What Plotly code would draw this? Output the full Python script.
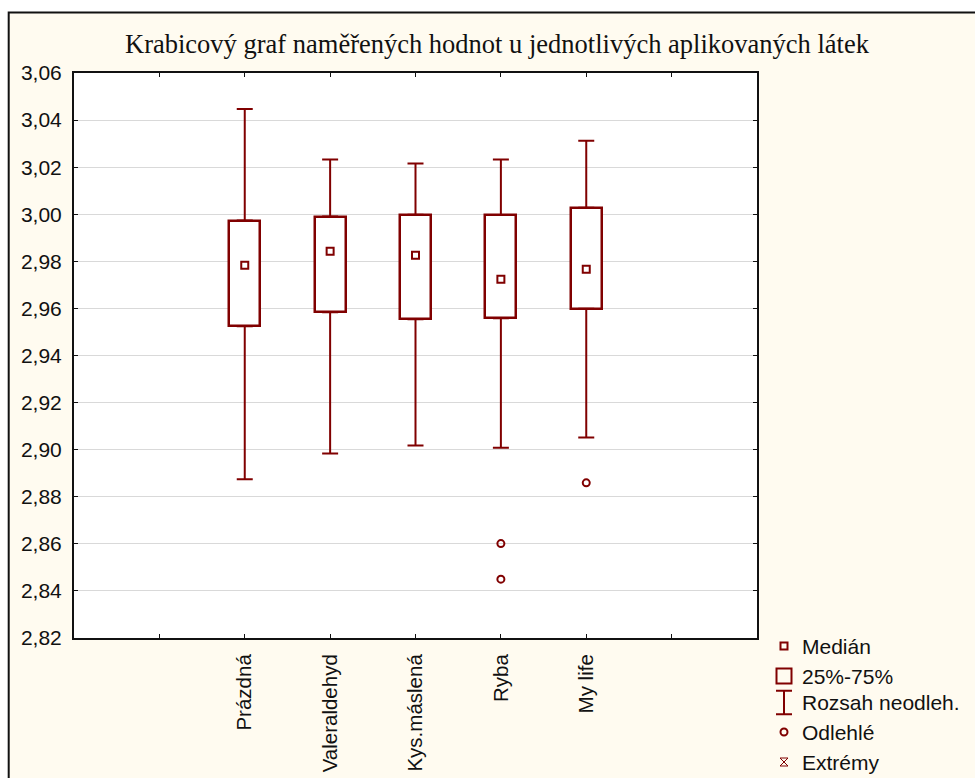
import plotly.graph_objects as go

# ---- data -------------------------------------------------------------
categories = ["Prázdná", "Valeraldehyd", "Kys.máslená", "Ryba", "My life"]
upper_whisker = [3.0447, 3.0233, 3.0216, 3.0233, 3.0312]
q3_values = [2.9973, 2.9990, 2.9998, 2.9997, 3.0028]
median_values = [2.9783, 2.9843, 2.9826, 2.9724, 2.9766]
q1_values = [2.9524, 2.9584, 2.9554, 2.9558, 2.9599]
lower_whisker = [2.8874, 2.8984, 2.9018, 2.9008, 2.9052]
outlier_groups = ["Ryba", "Ryba", "My life"]
outlier_values = [2.8601, 2.8450, 2.8859]

y_tickvals = [2.82, 2.84, 2.86, 2.88, 2.90, 2.92, 2.94, 2.96, 2.98,
              3.00, 3.02, 3.04, 3.06]
y_ticktext = ["2,82", "2,84", "2,86", "2,88", "2,90", "2,92", "2,94",
              "2,96", "2,98", "3,00", "3,02", "3,04", "3,06"]

legend_labels = ["Medián", "25%-75%", "Rozsah neodleh.", "Odlehlé", "Extrémy"]

title_text = "Krabicový graf naměřených hodnot u jednotlivých aplikovaných látek"

# ---- styling ------------------------------------------------------------
RED = "#800000"
CREAM = "#FFFBF0"
W, H = 975, 778
SANS = "Liberation Sans, Arial, sans-serif"
SERIF = "Liberation Serif, Times New Roman, serif"

# category slots: one empty slot on each side of the five groups
x_pos = [i + 2 for i in range(len(categories))]
slot_of = dict(zip(categories, x_pos))
x_tickvals = list(range(1, len(categories) + 3))
x_ticktext = [""] + categories + [""]

fig = go.Figure()

# boxes (Q1 .. Q3)
fig.add_trace(go.Bar(
    x=x_pos,
    y=[a - b for a, b in zip(q3_values, q1_values)],
    base=q1_values,
    width=0.365,
    marker=dict(color="white", line=dict(color=RED, width=2.5)),
    showlegend=False, hoverinfo="skip",
))

# upper whiskers from Q3
fig.add_trace(go.Scatter(
    x=x_pos, y=q3_values, mode="markers",
    marker=dict(size=1, color="rgba(0,0,0,0)"),
    error_y=dict(type="data", symmetric=False,
                 array=[u - q for u, q in zip(upper_whisker, q3_values)],
                 arrayminus=[0] * len(x_pos),
                 color=RED, thickness=2, width=8),
    showlegend=False, hoverinfo="skip",
))

# lower whiskers from Q1
fig.add_trace(go.Scatter(
    x=x_pos, y=q1_values, mode="markers",
    marker=dict(size=1, color="rgba(0,0,0,0)"),
    error_y=dict(type="data", symmetric=False,
                 array=[0] * len(x_pos),
                 arrayminus=[q - l for q, l in zip(q1_values, lower_whisker)],
                 color=RED, thickness=2, width=8),
    showlegend=False, hoverinfo="skip",
))

# medians
fig.add_trace(go.Scatter(
    x=x_pos, y=median_values, mode="markers",
    marker=dict(symbol="square-open", size=7, color=RED,
                line=dict(color=RED, width=2)),
    showlegend=False,
))

# outliers
fig.add_trace(go.Scatter(
    x=[slot_of[g] for g in outlier_groups], y=outlier_values, mode="markers",
    marker=dict(symbol="circle-open", size=7, color=RED,
                line=dict(color=RED, width=2)),
    showlegend=False,
))

# ---- key (drawn on a pixel-scaled overlay axis) ---------------------------
key_x = 784
key_rows = [646, 676, 702.5, 732, 762]

fig.add_trace(go.Scatter(
    x=[key_x], y=[key_rows[0]], xaxis="x2", yaxis="y2", mode="markers",
    marker=dict(symbol="square-open", size=7, color=RED, line=dict(color=RED, width=2)),
    showlegend=False, hoverinfo="skip",
))
fig.add_trace(go.Scatter(
    x=[key_x], y=[key_rows[1]], xaxis="x2", yaxis="y2", mode="markers",
    marker=dict(symbol="square-open", size=15, color=RED, line=dict(color=RED, width=2)),
    showlegend=False, hoverinfo="skip",
))
fig.add_trace(go.Scatter(
    x=[key_x], y=[key_rows[2]], xaxis="x2", yaxis="y2", mode="markers",
    marker=dict(size=1, color="rgba(0,0,0,0)"),
    error_y=dict(type="constant", value=11.8, color=RED, thickness=2, width=8),
    showlegend=False, hoverinfo="skip",
))
fig.add_trace(go.Scatter(
    x=[key_x], y=[key_rows[3]], xaxis="x2", yaxis="y2", mode="markers",
    marker=dict(symbol="circle-open", size=7, color=RED, line=dict(color=RED, width=2)),
    showlegend=False, hoverinfo="skip",
))
fig.add_trace(go.Scatter(
    x=[key_x], y=[key_rows[4]], xaxis="x2", yaxis="y2", mode="markers",
    marker=dict(symbol="hourglass-open", size=8, color=RED, line=dict(color=RED, width=1)),
    showlegend=False, hoverinfo="skip",
))

annotations = [
    dict(text=lab, x=800, y=row, xref="x2", yref="y2", xanchor="left",
         yanchor="middle", showarrow=False,
         font=dict(family=SANS, size=21, color="#111111"))
    for lab, row in zip(legend_labels, key_rows)
]
annotations.append(dict(
    text=title_text, x=497 / W, y=1 - 44 / H, xref="paper", yref="paper",
    xanchor="center", yanchor="middle", showarrow=False,
    font=dict(family=SERIF, size=26.5, color="#111111"),
))

plot_l, plot_r, plot_t, plot_b = 74, 757, 73, 638

shapes = [
    # cream panel with dark frame
    dict(type="rect", xref="paper", yref="paper",
         x0=8.7 / W, x1=1.02, y0=-0.02, y1=1 - 12.5 / H,
         fillcolor=CREAM, line=dict(color="#111111", width=2), layer="below"),
    # white plotting area
    dict(type="rect", xref="x domain", yref="y domain",
         x0=0, x1=1, y0=0, y1=1, fillcolor="white",
         line=dict(width=0), layer="below"),
]

fig.update_layout(
    width=W, height=H,
    margin=dict(l=0, r=0, t=0, b=0, pad=0),
    paper_bgcolor="white",
    plot_bgcolor="rgba(0,0,0,0)",
    font=dict(family=SANS, size=21, color="#111111"),
    showlegend=False,
    bargap=0,
    xaxis=dict(
        domain=[plot_l / W, plot_r / W],
        range=[0, len(categories) + 3],
        tickmode="array", tickvals=x_tickvals, ticktext=x_ticktext,
        tickangle=-90, ticks="inside", ticklen=4, tickcolor="#111111",
        showline=True, linecolor="#111111", linewidth=2, mirror="ticks",
        showgrid=False, zeroline=False, automargin=False,
        ticklabelstandoff=6,
        tickfont=dict(family=SANS, size=20.5, color="#111111"),
    ),
    yaxis=dict(
        domain=[1 - plot_b / H, 1 - plot_t / H],
        range=[2.82, 3.06],
        tickmode="array", tickvals=y_tickvals, ticktext=y_ticktext,
        ticks="inside", ticklen=4, tickcolor="#111111",
        showline=True, linecolor="#111111", linewidth=2, mirror="ticks",
        showgrid=True, gridcolor="#d9d9d9", gridwidth=1,
        zeroline=False, automargin=False,
        ticklabelstandoff=6,
        tickfont=dict(family=SANS, size=21, color="#111111"),
    ),
    xaxis2=dict(domain=[0, 1], range=[0, W], visible=False, anchor="y2",
                fixedrange=True),
    yaxis2=dict(domain=[0, 1], range=[H, 0], visible=False, anchor="x2",
                fixedrange=True),
    shapes=shapes,
    annotations=annotations,
)

fig.write_html("out.html")
